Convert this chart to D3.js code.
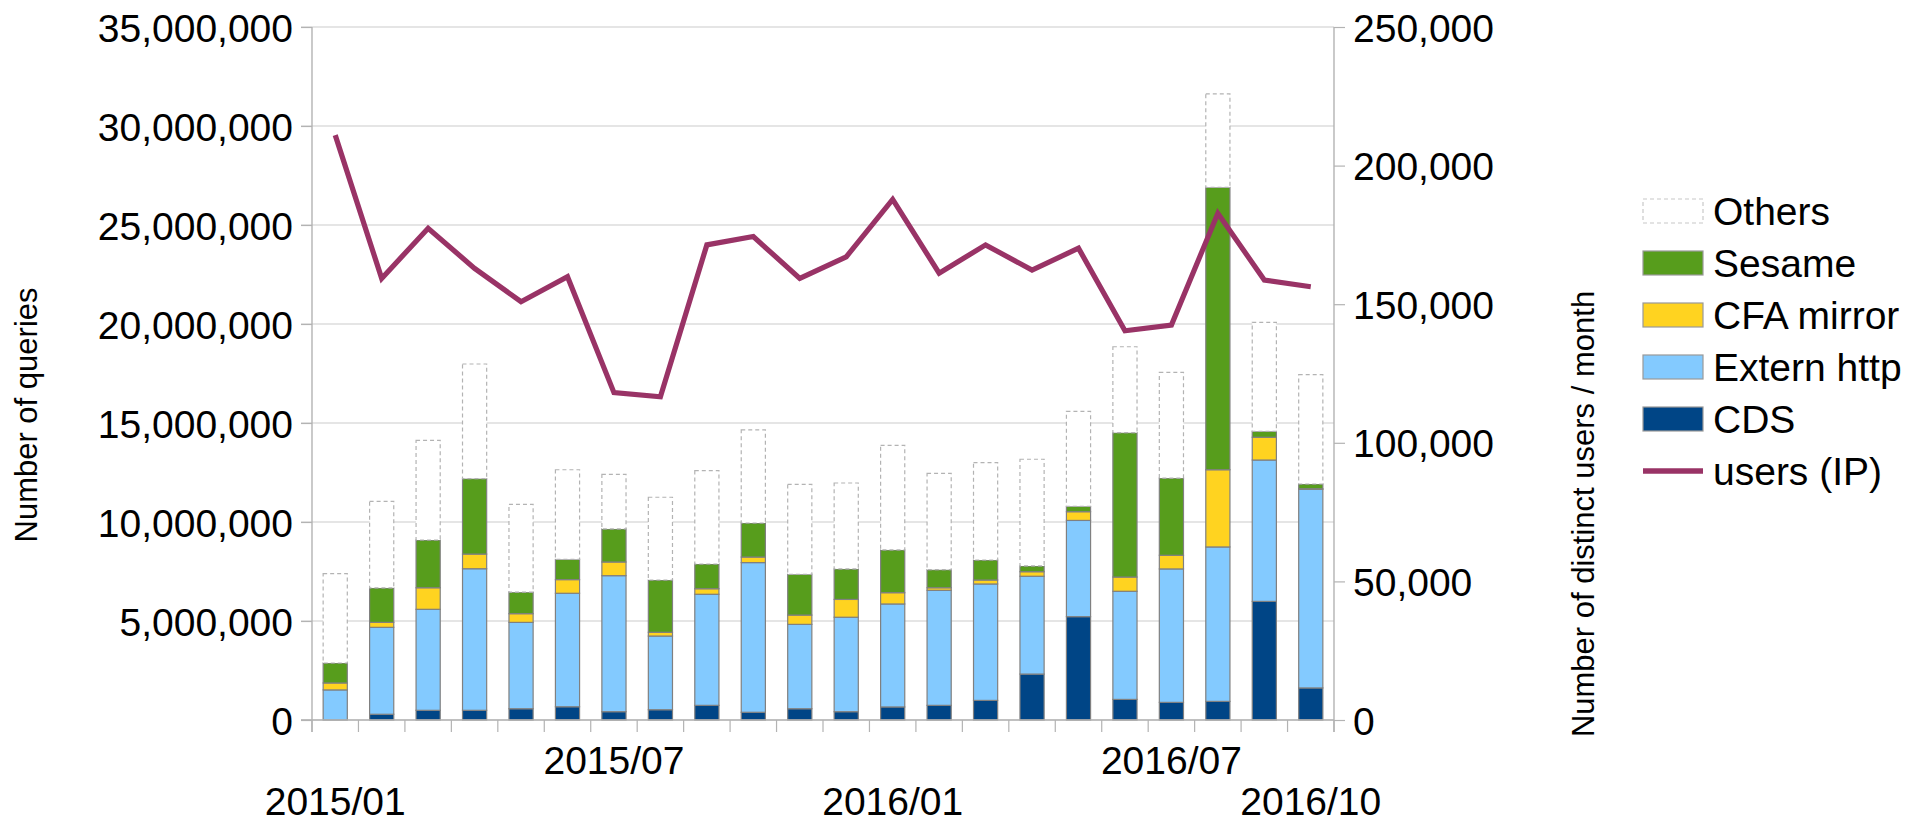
<!DOCTYPE html>
<html>
<head>
<meta charset="utf-8">
<script src="https://cdn.jsdelivr.net/npm/d3@7"></script>
<style>
  body { margin: 0; background: #fff; }
  text { font-family: "Liberation Sans", Arial, sans-serif; fill: #000; }
</style>
</head>
<body>
<svg width="1927" height="824"></svg>
<script>
const months = ["2015/01", "2015/02", "2015/03", "2015/04", "2015/05", "2015/06",
  "2015/07", "2015/08", "2015/09", "2015/10", "2015/11", "2015/12",
  "2016/01", "2016/02", "2016/03", "2016/04", "2016/05", "2016/06",
  "2016/07", "2016/08", "2016/09", "2016/10"];

const cds = [0, 290000, 490000, 490000, 570000, 670000, 420000, 520000, 740000, 390000, 570000,
  420000, 660000, 740000, 990000, 2320000, 5220000, 1040000, 890000, 940000, 5990000, 1620000];
const externHttp = [1520000, 4390000, 5100000, 7150000, 4360000, 5730000, 6870000, 3720000, 5610000, 7560000, 4260000,
  4770000, 5200000, 5810000, 5880000, 4940000, 4860000, 5460000, 6740000, 7800000, 7140000, 10030000];
const cfaMirror = [350000, 250000, 1090000, 740000, 440000, 690000, 690000, 190000, 280000, 280000, 470000,
  900000, 570000, 130000, 200000, 230000, 440000, 720000, 690000, 3900000, 1150000, 30000];
const sesame = [1010000, 1740000, 2410000, 3810000, 1090000, 1020000, 1670000, 2640000, 1250000, 1720000, 2060000,
  1540000, 2160000, 910000, 1010000, 290000, 270000, 7290000, 3900000, 14260000, 300000, 240000];
const others = [4510000, 4370000, 5030000, 5790000, 4430000, 4530000, 2760000, 4180000, 4710000, 4700000, 4540000,
  4340000, 5280000, 4870000, 4920000, 5390000, 4800000, 4340000, 5340000, 4720000, 5500000, 5520000];
const users = [211000, 159300, 177400, 162900, 150900, 159900, 118100, 116600, 171400, 174400, 159300,
  167100, 187800, 161200, 171400, 162300, 170200, 140400, 142500, 182800, 158700, 156300];

const leftTicks = [0, 5000000, 10000000, 15000000, 20000000, 25000000, 30000000, 35000000];
const rightTicks = [0, 50000, 100000, 150000, 200000, 250000];
const xTickLabels = ["2015/01", "2015/07", "2016/01", "2016/07", "2016/10"];

const seriesNames = ["CDS", "Extern http", "CFA mirror", "Sesame", "Others"];
const seriesColors = ["#004586", "#83caff", "#ffd320", "#579d1c", "#ffffff"];
const lineName = "users (IP)";
const lineColor = "#993366";

const svg = d3.select("svg");
const margin = { left: 312, right: 1334, top: 27, bottom: 720 };
const fontSize = 39;

const x = d3.scaleBand().domain(months).range([margin.left, margin.right]).padding(0);
const y = d3.scaleLinear().domain([0, 35000000]).range([margin.bottom, margin.top]);
const y2 = d3.scaleLinear().domain([0, 250000]).range([margin.bottom, margin.top]);
const barW = x.bandwidth() * 0.52;

// table for the stack
const table = months.map((m, i) => ({
  month: m,
  "CDS": cds[i],
  "Extern http": externHttp[i],
  "CFA mirror": cfaMirror[i],
  "Sesame": sesame[i],
  "Others": others[i]
}));
const stacked = d3.stack().keys(seriesNames)(table);

// gridlines
svg.append("g")
  .selectAll("line")
  .data(leftTicks)
  .join("line")
  .attr("x1", margin.left - 11)
  .attr("x2", margin.right)
  .attr("y1", (d) => y(d))
  .attr("y2", (d) => y(d))
  .attr("stroke", "#cccccc")
  .attr("stroke-width", 1.2);

// bars
const layers = svg.append("g")
  .selectAll("g")
  .data(stacked)
  .join("g")
  .attr("fill", (d, i) => seriesColors[i]);

layers.selectAll("rect")
  .data((d) => d.map((v) => ({ v, key: d.key })))
  .join("rect")
  .attr("x", (d) => x(d.v.data.month) + (x.bandwidth() - barW) / 2)
  .attr("width", barW)
  .attr("y", (d) => y(d.v[1]))
  .attr("height", (d) => Math.max(0, y(d.v[0]) - y(d.v[1])))
  .attr("stroke", (d) => (d.key === "Others" ? "#b3b3b3" : "#808080"))
  .attr("stroke-width", 1.2)
  .attr("stroke-dasharray", (d) => (d.key === "Others" ? "4,3" : null));

// axes lines and ticks
const axisColor = "#b3b3b3";

const leftAxis = svg.append("g")
  .attr("transform", `translate(${margin.left},0)`)
  .call(d3.axisLeft(y).tickValues(leftTicks).tickSize(11).tickPadding(8)
    .tickFormat(d3.format(",")));

const rightAxis = svg.append("g")
  .attr("transform", `translate(${margin.right},0)`)
  .call(d3.axisRight(y2).tickValues(rightTicks).tickSize(11).tickPadding(8)
    .tickFormat(d3.format(",")));

[leftAxis, rightAxis].forEach((g) => {
  g.select(".domain").remove();
  g.selectAll(".tick line").attr("stroke", axisColor).attr("stroke-width", 1.2);
  g.selectAll(".tick text")
    .attr("font-size", fontSize)
    .attr("font-family", "Liberation Sans, Arial, sans-serif")
    .attr("fill", "#000")
    .attr("dy", "0.36em");
});

// vertical axis lines
svg.append("g")
  .selectAll("line")
  .data([margin.left, margin.right])
  .join("line")
  .attr("x1", (d) => d)
  .attr("x2", (d) => d)
  .attr("y1", margin.top)
  .attr("y2", margin.bottom + 12)
  .attr("stroke", axisColor)
  .attr("stroke-width", 1.4);

// x axis baseline and ticks between categories
svg.append("line")
  .attr("x1", margin.left - 11)
  .attr("x2", margin.right)
  .attr("y1", margin.bottom)
  .attr("y2", margin.bottom)
  .attr("stroke", axisColor)
  .attr("stroke-width", 1.4);

svg.append("g")
  .selectAll("line")
  .data(d3.range(months.length + 1))
  .join("line")
  .attr("x1", (i) => margin.left + i * x.step())
  .attr("x2", (i) => margin.left + i * x.step())
  .attr("y1", margin.bottom)
  .attr("y2", margin.bottom + 12)
  .attr("stroke", axisColor)
  .attr("stroke-width", 1.2);

// x labels, staggered in two rows
svg.append("g")
  .selectAll("text")
  .data(xTickLabels)
  .join("text")
  .attr("x", (d) => x(d) + x.bandwidth() / 2)
  .attr("y", (d, i) => (i % 2 === 0 ? 815 : 774))
  .attr("text-anchor", "middle")
  .attr("font-size", fontSize)
  .text((d) => d);

// users line
const line = d3.line()
  .x((d, i) => x(months[i]) + x.bandwidth() / 2)
  .y((d) => y2(d));

svg.append("path")
  .datum(users)
  .attr("fill", "none")
  .attr("stroke", lineColor)
  .attr("stroke-width", 5.2)
  .attr("d", line);

// axis titles
svg.append("text")
  .attr("transform", "translate(37,415) rotate(-90)")
  .attr("text-anchor", "middle")
  .attr("font-size", 31)
  .text("Number of queries");

svg.append("text")
  .attr("transform", "translate(1594,514) rotate(-90)")
  .attr("text-anchor", "middle")
  .attr("font-size", 31)
  .text("Number of distinct users / month");

// legend
const legendItems = seriesNames.slice().reverse().map((name) => ({
  name,
  color: seriesColors[seriesNames.indexOf(name)],
  type: "rect"
}));
legendItems.push({ name: lineName, color: lineColor, type: "line" });

const legend = svg.append("g").attr("transform", "translate(1643,211)");
const item = legend.selectAll("g")
  .data(legendItems)
  .join("g")
  .attr("transform", (d, i) => `translate(0,${i * 52})`);

item.filter((d) => d.type === "rect")
  .append("rect")
  .attr("x", 0)
  .attr("y", -12)
  .attr("width", 60)
  .attr("height", 24)
  .attr("fill", (d) => d.color)
  .attr("stroke", (d) => (d.name === "Others" ? "#c8c8c8" : "#999999"))
  .attr("stroke-width", 1.2)
  .attr("stroke-dasharray", (d) => (d.name === "Others" ? "4,3" : null));

item.filter((d) => d.type === "line")
  .append("line")
  .attr("x1", 0)
  .attr("x2", 60)
  .attr("y1", 0)
  .attr("y2", 0)
  .attr("stroke", (d) => d.color)
  .attr("stroke-width", 5.5);

item.append("text")
  .attr("x", 70)
  .attr("dy", "0.36em")
  .attr("font-size", fontSize)
  .text((d) => d.name);
</script>
</body>
</html>
